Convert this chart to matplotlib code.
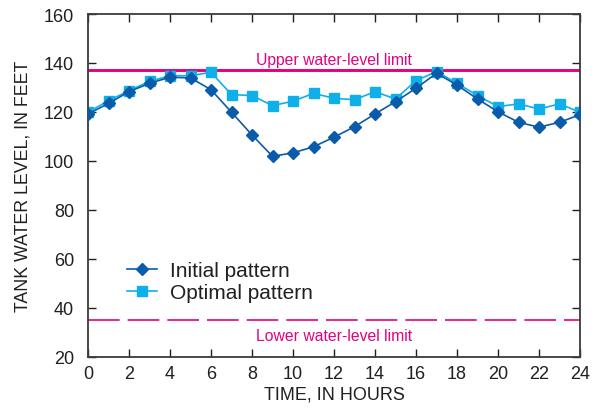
import matplotlib
matplotlib.use("Agg")
import matplotlib.pyplot as plt

plt.rcParams['font.family'] = ['Liberation Sans', 'DejaVu Sans']

hours = list(range(0, 25))
initial = [119.2, 123.5, 128.3, 131.7, 134.2, 133.9, 129.1, 119.9, 110.6, 101.9,
           103.3, 105.8, 109.7, 114.0, 119.2, 124.2, 129.7, 135.8, 131.0, 125.3,
           120.1, 115.8, 113.8, 115.8, 118.9]
optimal = [119.9, 124.6, 128.7, 132.5, 134.8, 134.8, 136.2, 127.1, 126.7, 122.6,
           124.4, 127.6, 125.6, 125.0, 128.3, 125.3, 132.8, 136.5, 131.7, 126.7,
           122.2, 123.3, 121.2, 123.3, 119.9]
upper_limit = 137
lower_limit = 35

dark = '#0a5caa'
light = '#0fb0ea'
pink = '#e5007d'
ink = '#231f20'

fig = plt.figure(figsize=(6, 4.1), dpi=100)
ax = fig.add_axes([0.1467, 0.127, 0.82, 0.8364])

ax.axhline(upper_limit, color=pink, linewidth=2.1, zorder=1)
ax.axhline(lower_limit, color=pink, linewidth=1.2, dashes=(19, 4.8), zorder=1)
ax.text(12, 139.6, 'Upper water-level limit', color=pink,
        fontsize=11.3, ha='center', va='baseline')
ax.text(12, 27.0, 'Lower water-level limit', color=pink,
        fontsize=11.3, ha='center', va='baseline')

ax.plot(hours, optimal, '-s', color=light, markersize=6.5, linewidth=1.2,
        label='Optimal pattern', zorder=2)
ax.plot(hours, initial, '-D', color=dark, markersize=6, linewidth=1.2,
        label='Initial pattern', zorder=3)

handles, labels = ax.get_legend_handles_labels()
ax.legend(handles[::-1], labels[::-1], loc='upper left', bbox_to_anchor=(0.042, 0.334),
          frameon=False, fontsize=15, handlelength=1.4, labelspacing=0.15,
          handletextpad=0.65, labelcolor=ink)

ax.set_xlim(0, 24)
ax.set_ylim(20, 160)
ax.set_xticks(range(0, 25, 2))
ax.set_yticks(range(20, 161, 20))
ax.tick_params(direction='in', length=6, width=1, top=True, right=True,
               labelsize=13, colors=ink)
ax.tick_params(axis='y', pad=10)
ax.tick_params(axis='x', pad=6)
for s in ax.spines.values():
    s.set_linewidth(1.3)
    s.set_color('#3a3a3a')

ax.set_xlabel('TIME, IN HOURS', fontsize=13, color=ink, labelpad=2)
ax.set_ylabel('TANK WATER LEVEL, IN FEET', fontsize=12.8, color=ink, labelpad=9)

fig.savefig('out.png', dpi=100)
